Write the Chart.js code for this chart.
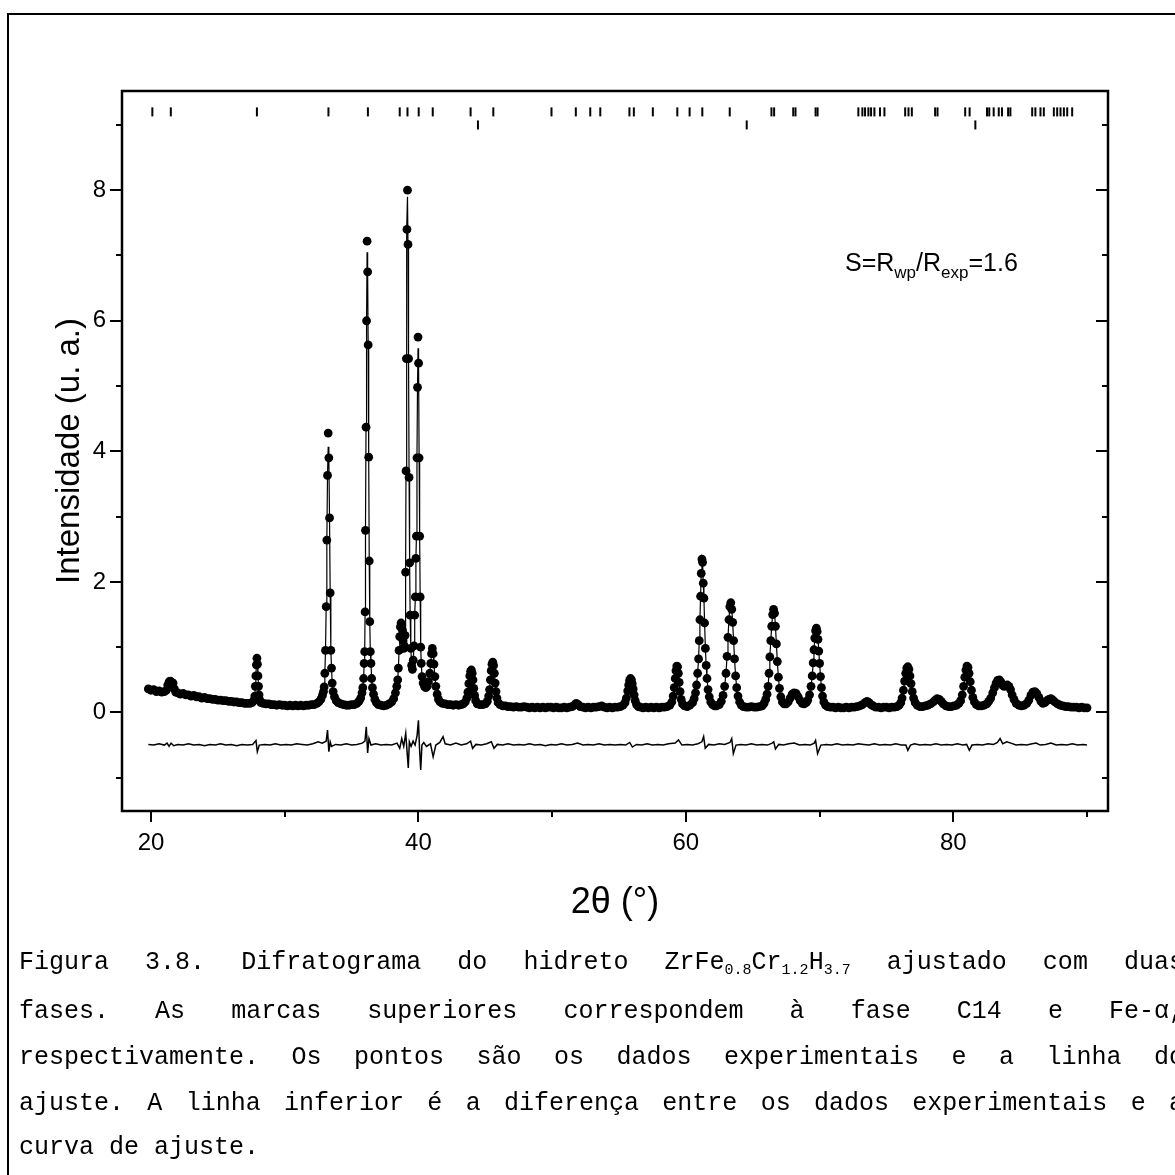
<!DOCTYPE html>
<html>
<head>
<meta charset="utf-8">
<title>Difratograma ZrFe0.8Cr1.2H3.7</title>
<script src="https://cdn.jsdelivr.net/npm/chart.js@4.4.1/dist/chart.umd.min.js"></script>
<style>
  html, body { margin: 0; padding: 0; background: #fff; width: 1175px; height: 1175px; overflow: hidden; }
  #wrap { position: relative; width: 1175px; height: 1175px; overflow: hidden; }
  #frame { position: absolute; left: 7px; top: 13px; width: 1400px; height: 1400px; border-left: 2px solid #000; border-top: 2px solid #000; }
  #chart { position: absolute; left: 0; top: 0; }
  .cap { position: absolute; left: 19px; width: 1165px; height: 46px; line-height: 46px; color: #000;
         font-family: "Liberation Mono", "Courier New", monospace; font-size: 25px;
         text-align: justify; text-align-last: justify; }
  .cap.last { text-align: left; text-align-last: left; }
  .cap sub { font-size: 15px; vertical-align: -5px; line-height: 0; }
</style>
</head>
<body>
<div id="wrap">
  <div id="frame"></div>
  <canvas id="chart" width="1175" height="1175"></canvas>
  <div class="cap" style="top:940px">Figura 3.8. Difratograma do hidreto ZrFe<sub>0.8</sub>Cr<sub>1.2</sub>H<sub>3.7</sub> ajustado com duas</div>
  <div class="cap" style="top:989px">fases. As marcas superiores correspondem à fase C14 e Fe-α,</div>
  <div class="cap" style="top:1035px">respectivamente. Os pontos são os dados experimentais e a linha do</div>
  <div class="cap" style="top:1081px">ajuste. A linha inferior é a diferença entre os dados experimentais e a</div>
  <div class="cap last" style="top:1125px">curva de ajuste.</div>
</div>
<script>
const observed = [
  [19.8,0.36],[20.0,0.34],[20.2,0.35],[20.4,0.32],[20.6,0.33],[20.8,0.31],[21.0,0.32],[21.15,0.34],[21.25,0.42],[21.35,0.47],
  [21.45,0.48],[21.55,0.46],[21.65,0.45],[21.75,0.36],[21.85,0.31],[22.0,0.3],[22.2,0.28],[22.4,0.29],[22.6,0.27],[22.8,0.27],
  [23.0,0.25],[23.2,0.26],[23.4,0.24],[23.6,0.24],[23.8,0.22],[24.0,0.23],[24.2,0.21],[24.4,0.21],[24.6,0.2],[24.8,0.2],
  [25.0,0.19],[25.2,0.19],[25.4,0.18],[25.6,0.18],[25.8,0.17],[26.0,0.17],[26.2,0.16],[26.4,0.16],[26.6,0.15],[26.8,0.15],
  [27.0,0.14],[27.2,0.14],[27.4,0.14],[27.55,0.15],[27.68,0.18],
  [27.76,0.25],[27.8,0.4],[27.84,0.56],[27.88,0.73],[27.92,0.83],[27.96,0.74],[28.0,0.56],[28.04,0.4],[28.08,0.27],[28.14,0.19],[28.22,0.15],
  [28.4,0.14],[28.6,0.13],[28.8,0.13],[29.0,0.12],[29.2,0.12],[29.4,0.11],[29.6,0.12],[29.8,0.11],[30.0,0.11],[30.2,0.1],
  [30.4,0.11],[30.6,0.1],[30.8,0.11],[31.0,0.1],[31.2,0.11],[31.4,0.1],[31.6,0.11],[31.8,0.11],[32.0,0.12],[32.2,0.12],
  [32.4,0.14],[32.55,0.16],[32.7,0.2],[32.82,0.26],[32.9,0.32],
  [32.95,0.39],[33.0,0.6],[33.05,0.95],[33.1,1.62],[33.15,2.64],[33.2,3.63],[33.25,4.28],[33.3,3.9],[33.35,2.98],[33.4,1.83],
  [33.45,0.95],[33.5,0.68],[33.55,0.45],[33.62,0.32],[33.72,0.24],[33.85,0.18],[34.0,0.15],
  [34.2,0.13],[34.4,0.12],[34.6,0.11],[34.8,0.11],[35.0,0.12],[35.2,0.12],[35.4,0.14],[35.55,0.17],[35.68,0.22],[35.78,0.3],[35.84,0.38],
  [35.9,0.52],[35.94,0.75],[35.98,0.93],[36.01,1.54],[36.04,2.79],[36.08,4.37],[36.12,6.0],[36.16,7.22],[36.2,6.75],[36.24,5.63],
  [36.28,3.91],[36.32,2.32],[36.36,1.39],[36.4,0.93],[36.45,0.75],[36.5,0.52],[36.56,0.38],[36.64,0.28],[36.74,0.2],[36.86,0.15],[37.0,0.12],
  [37.2,0.11],[37.4,0.1],[37.6,0.11],[37.8,0.13],[38.0,0.16],[38.15,0.21],[38.28,0.3],[38.38,0.4],
  [38.45,0.5],[38.5,0.68],[38.55,0.95],[38.6,1.16],[38.65,1.31],[38.7,1.37],[38.75,1.33],[38.8,1.26],[38.85,1.1],[38.9,0.98],
  [38.95,1.02],[39.0,1.18],[39.04,2.15],[39.07,3.7],[39.1,5.42],[39.14,7.4],[39.18,8.0],[39.22,7.17],[39.26,5.42],[39.3,3.6],
  [39.34,2.29],[39.38,1.49],[39.43,0.98],[39.49,0.72],[39.55,0.66],[39.61,0.8],[39.67,1.02],[39.72,1.49],[39.77,1.77],[39.81,2.36],
  [39.85,2.7],[39.89,3.9],[39.93,4.98],[39.97,5.75],[40.01,5.35],[40.05,3.9],[40.09,2.7],[40.13,1.77],[40.17,1.0],[40.21,0.75],
  [40.27,0.55],[40.35,0.45],[40.45,0.4],[40.55,0.38],[40.65,0.4],[40.75,0.47],[40.85,0.6],[40.92,0.75],[40.98,0.9],[41.04,0.98],
  [41.1,0.9],[41.16,0.74],[41.23,0.55],[41.3,0.4],[41.4,0.28],[41.5,0.2],[41.62,0.16],
  [41.8,0.14],[42.0,0.13],[42.2,0.12],[42.4,0.12],[42.6,0.11],[42.8,0.12],[43.0,0.11],[43.2,0.12],[43.35,0.13],[43.5,0.16],[43.62,0.22],
  [43.7,0.31],[43.77,0.44],[43.84,0.56],[43.9,0.63],[43.96,0.65],[44.02,0.6],[44.08,0.5],[44.14,0.37],[44.2,0.26],[44.28,0.18],
  [44.4,0.13],[44.6,0.12],[44.8,0.12],[45.0,0.13],[45.15,0.17],[45.25,0.25],
  [45.32,0.35],[45.38,0.5],[45.44,0.64],[45.5,0.74],[45.56,0.77],[45.62,0.72],[45.68,0.6],[45.74,0.45],[45.8,0.32],[45.87,0.22],[45.96,0.15],[46.1,0.12],
  [46.3,0.1],[46.5,0.1],[46.7,0.09],[46.9,0.09],[47.1,0.08],[47.3,0.09],[47.5,0.08],[47.7,0.08],[47.9,0.09],[48.1,0.08],
  [48.3,0.07],[48.5,0.08],[48.7,0.07],[48.9,0.08],[49.1,0.07],[49.3,0.08],[49.5,0.07],[49.7,0.08],[49.9,0.08],[50.1,0.07],
  [50.3,0.08],[50.5,0.07],[50.7,0.07],[50.9,0.08],[51.1,0.07],[51.3,0.08],[51.5,0.09],[51.65,0.11],[51.8,0.14],[51.95,0.12],
  [52.1,0.09],[52.3,0.08],[52.5,0.07],[52.7,0.08],[52.9,0.07],[53.1,0.08],[53.3,0.08],[53.5,0.09],[53.7,0.1],[53.9,0.08],
  [54.1,0.07],[54.3,0.08],[54.5,0.07],[54.7,0.08],[54.9,0.08],[55.1,0.09],
  [55.3,0.11],[55.45,0.15],[55.55,0.22],[55.65,0.33],[55.72,0.42],[55.79,0.49],[55.86,0.52],[55.93,0.5],[55.99,0.44],[56.06,0.36],
  [56.13,0.27],[56.21,0.18],[56.31,0.12],[56.45,0.09],
  [56.6,0.08],[56.8,0.07],[57.0,0.08],[57.2,0.07],[57.4,0.08],[57.6,0.07],[57.8,0.08],[58.0,0.07],[58.2,0.08],[58.4,0.08],[58.6,0.09],
  [58.8,0.11],[58.95,0.16],[59.05,0.25],[59.13,0.38],[59.2,0.52],[59.26,0.64],[59.32,0.71],[59.38,0.7],[59.44,0.6],[59.5,0.46],
  [59.57,0.32],[59.65,0.2],[59.75,0.13],[59.9,0.1],
  [60.1,0.09],[60.3,0.11],[60.5,0.15],[60.62,0.21],[60.72,0.3],[60.8,0.42],[60.88,0.6],[60.95,0.82],[61.0,1.1],[61.05,1.42],
  [61.1,1.78],[61.15,2.13],[61.2,2.35],[61.25,2.3],[61.3,1.98],[61.35,1.75],[61.4,1.37],[61.46,0.98],[61.52,0.72],[61.58,0.52],
  [61.66,0.35],[61.75,0.24],[61.86,0.16],[62.0,0.12],[62.15,0.1],
  [62.3,0.1],[62.5,0.12],[62.65,0.17],[62.78,0.26],[62.9,0.4],[63.0,0.6],[63.08,0.86],[63.15,1.15],[63.22,1.42],[63.29,1.62],
  [63.36,1.68],[63.43,1.58],[63.5,1.38],[63.57,1.1],[63.64,0.82],[63.72,0.56],[63.8,0.38],[63.9,0.25],[64.02,0.16],[64.15,0.11],
  [64.3,0.09],[64.5,0.08],[64.7,0.08],[64.9,0.09],[65.1,0.08],[65.3,0.08],[65.5,0.09],[65.7,0.1],[65.85,0.14],[65.97,0.2],
  [66.07,0.28],[66.15,0.4],[66.22,0.6],[66.28,0.85],[66.35,1.1],[66.42,1.32],[66.49,1.5],[66.56,1.58],[66.63,1.52],[66.7,1.32],
  [66.77,1.05],[66.84,0.78],[66.92,0.54],[67.0,0.37],[67.1,0.24],[67.22,0.16],
  [67.35,0.13],[67.5,0.13],[67.65,0.16],[67.8,0.22],[67.95,0.28],[68.1,0.3],[68.25,0.29],[68.4,0.24],[68.55,0.18],[68.7,0.14],
  [68.85,0.13],[69.0,0.15],[69.12,0.19],[69.25,0.27],
  [69.36,0.4],[69.45,0.56],[69.52,0.76],[69.58,0.96],[69.64,1.14],[69.7,1.25],[69.76,1.29],[69.82,1.24],[69.88,1.12],[69.94,0.94],
  [70.0,0.75],[70.07,0.55],[70.14,0.38],[70.22,0.25],[70.32,0.16],[70.45,0.11],[70.6,0.09],
  [70.8,0.08],[71.0,0.08],[71.2,0.07],[71.4,0.08],[71.6,0.07],[71.8,0.07],[72.0,0.08],[72.2,0.07],[72.4,0.08],[72.6,0.08],
  [72.8,0.09],[73.0,0.1],[73.2,0.12],[73.4,0.15],[73.55,0.17],[73.7,0.15],[73.85,0.12],[74.0,0.1],[74.2,0.08],[74.4,0.08],
  [74.6,0.07],[74.8,0.08],[75.0,0.08],[75.2,0.07],[75.4,0.08],[75.6,0.08],[75.8,0.09],
  [75.95,0.11],[76.07,0.15],[76.17,0.22],[76.27,0.34],[76.36,0.48],[76.44,0.6],[76.52,0.68],[76.6,0.7],[76.68,0.66],[76.76,0.56],
  [76.84,0.44],[76.93,0.32],[77.03,0.22],[77.15,0.15],[77.3,0.11],[77.5,0.09],[77.7,0.09],[77.9,0.1],[78.1,0.11],[78.3,0.13],
  [78.5,0.16],[78.65,0.19],[78.8,0.21],[78.95,0.2],[79.1,0.17],[79.25,0.13],[79.45,0.1],[79.65,0.09],[79.85,0.09],[80.05,0.1],
  [80.25,0.11],[80.42,0.14],
  [80.55,0.18],[80.67,0.27],[80.77,0.4],[80.86,0.54],[80.94,0.65],[81.02,0.71],[81.1,0.69],[81.18,0.6],[81.27,0.47],[81.36,0.34],
  [81.46,0.23],[81.58,0.16],[81.72,0.12],[81.9,0.1],[82.1,0.1],[82.3,0.11],[82.5,0.13],[82.65,0.17],
  [82.8,0.22],[82.95,0.3],[83.08,0.38],[83.2,0.45],[83.32,0.49],[83.44,0.5],[83.56,0.47],[83.68,0.42],[83.8,0.4],[83.92,0.41],
  [84.04,0.42],[84.16,0.4],[84.28,0.35],[84.4,0.27],[84.54,0.2],[84.7,0.14],[84.9,0.11],[85.1,0.1],[85.3,0.11],[85.5,0.14],
  [85.65,0.19],[85.8,0.26],[85.95,0.31],[86.1,0.32],[86.25,0.29],[86.4,0.23],[86.55,0.17],[86.7,0.14],[86.85,0.15],[87.0,0.18],
  [87.15,0.2],[87.3,0.21],[87.45,0.19],[87.6,0.16],[87.8,0.13],[88.0,0.11],[88.2,0.1],[88.4,0.09],[88.6,0.09],[88.8,0.08],
  [89.0,0.08],[89.2,0.08],[89.4,0.07],[89.6,0.08],[89.8,0.07],[90.0,0.07]
];

// Where the fitted curve tops out below the measured point
const fitTops = [[33.25, 4.07], [36.16, 7.05], [39.18, 7.9], [39.97, 5.58]];

// Difference curve (obs - calc), drawn shifted below zero as in the figure
const difference = [
  [19.8,-0.49],[20.2,-0.5],[20.6,-0.48],[21.0,-0.5],[21.2,-0.47],[21.35,-0.52],[21.5,-0.47],[21.7,-0.51],[22.0,-0.49],[22.4,-0.5],
  [22.8,-0.48],[23.2,-0.5],[23.6,-0.49],[24.0,-0.51],[24.4,-0.49],[24.8,-0.5],[25.2,-0.48],[25.6,-0.5],[26.0,-0.49],[26.4,-0.51],
  [26.8,-0.49],[27.2,-0.5],[27.6,-0.49],[27.85,-0.43],[27.95,-0.6],[28.1,-0.5],[28.5,-0.49],[28.9,-0.5],[29.3,-0.48],[29.7,-0.5],
  [30.1,-0.49],[30.5,-0.5],[30.9,-0.48],[31.3,-0.49],[31.7,-0.5],[32.1,-0.48],[32.5,-0.45],[32.8,-0.47],[33.1,-0.44],[33.2,-0.27],
  [33.3,-0.6],[33.4,-0.45],[33.5,-0.52],[33.8,-0.49],[34.2,-0.5],[34.6,-0.48],[35.0,-0.5],[35.4,-0.49],[35.8,-0.47],[36.0,-0.44],
  [36.1,-0.22],[36.2,-0.62],[36.3,-0.4],[36.45,-0.5],[36.8,-0.48],[37.2,-0.5],[37.6,-0.49],[38.0,-0.5],[38.4,-0.47],[38.6,-0.55],
  [38.75,-0.4],[38.9,-0.52],[39.05,-0.32],[39.15,-0.6],[39.24,-0.85],[39.32,-0.45],[39.45,-0.52],[39.6,-0.44],[39.75,-0.5],[39.9,-0.35],
  [40.0,-0.12],[40.08,-0.55],[40.17,-0.88],[40.26,-0.5],[40.4,-0.46],[40.6,-0.52],[40.9,-0.48],[41.1,-0.68],[41.3,-0.5],[41.6,-0.46],
  [41.84,-0.37],[42.0,-0.48],[42.4,-0.5],[42.8,-0.47],[43.2,-0.5],[43.6,-0.48],[43.9,-0.44],[44.05,-0.55],[44.3,-0.49],[44.7,-0.5],
  [45.1,-0.48],[45.45,-0.45],[45.65,-0.55],[45.9,-0.49],[46.3,-0.5],[46.7,-0.48],[47.1,-0.5],[47.5,-0.49],[47.9,-0.5],[48.3,-0.48],
  [48.7,-0.5],[49.1,-0.49],[49.5,-0.51],[49.9,-0.49],[50.3,-0.5],[50.7,-0.48],[51.1,-0.5],[51.5,-0.49],[51.9,-0.47],[52.3,-0.5],
  [52.7,-0.49],[53.1,-0.5],[53.5,-0.48],[53.9,-0.5],[54.3,-0.49],[54.7,-0.5],[55.1,-0.49],[55.5,-0.5],[55.8,-0.46],[56.0,-0.53],
  [56.3,-0.49],[56.7,-0.5],[57.1,-0.48],[57.5,-0.5],[57.9,-0.49],[58.3,-0.5],[58.7,-0.48],[59.2,-0.47],[59.45,-0.42],[59.7,-0.5],
  [60.1,-0.49],[60.5,-0.5],[60.9,-0.48],[61.2,-0.45],[61.33,-0.37],[61.45,-0.55],[61.7,-0.49],[62.1,-0.5],[62.5,-0.48],[62.9,-0.49],
  [63.3,-0.46],[63.43,-0.4],[63.55,-0.63],[63.75,-0.5],[64.1,-0.49],[64.5,-0.5],[64.9,-0.48],[65.3,-0.5],[65.7,-0.49],[66.1,-0.5],
  [66.45,-0.47],[66.57,-0.45],[66.7,-0.56],[66.95,-0.49],[67.3,-0.5],[67.7,-0.48],[68.1,-0.47],[68.5,-0.5],[68.9,-0.49],[69.3,-0.5],
  [69.6,-0.47],[69.7,-0.43],[69.85,-0.63],[70.1,-0.5],[70.5,-0.49],[70.9,-0.5],[71.3,-0.48],[71.7,-0.5],[72.1,-0.49],[72.5,-0.5],
  [72.9,-0.48],[73.3,-0.49],[73.7,-0.5],[74.1,-0.48],[74.5,-0.5],[74.9,-0.49],[75.3,-0.5],[75.7,-0.48],[76.1,-0.5],[76.45,-0.5],
  [76.6,-0.58],[76.8,-0.5],[77.1,-0.48],[77.5,-0.5],[77.9,-0.49],[78.3,-0.5],[78.7,-0.48],[79.1,-0.5],[79.5,-0.49],[79.9,-0.5],
  [80.3,-0.48],[80.7,-0.5],[81.0,-0.49],[81.2,-0.58],[81.4,-0.5],[81.8,-0.49],[82.2,-0.5],[82.6,-0.48],[83.0,-0.49],[83.3,-0.46],
  [83.5,-0.4],[83.7,-0.48],[84.0,-0.45],[84.3,-0.47],[84.7,-0.5],[85.1,-0.49],[85.5,-0.5],[85.9,-0.48],[86.2,-0.47],[86.5,-0.5],
  [86.9,-0.49],[87.3,-0.47],[87.7,-0.5],[88.1,-0.49],[88.5,-0.5],[88.9,-0.48],[89.3,-0.5],[89.7,-0.49],[90.0,-0.5]
];

// Reflection positions (2theta): C14 Laves phase and Fe-alpha
const c14Marks = [20.1, 21.48, 27.92, 33.27, 36.22, 38.6, 39.18, 40.02, 41.07, 43.9, 45.6, 49.95, 51.77, 52.85, 53.6,
  55.78, 56.11, 57.53, 59.36, 60.28, 61.23, 63.28, 66.4, 66.6, 68.03, 68.2, 69.7, 69.85, 72.9, 73.2, 73.4, 73.65,
  73.85, 74.1, 74.52, 74.85, 76.4, 76.65, 76.9, 78.64, 78.82, 80.89, 81.22, 82.52, 82.69, 83.02, 83.4, 83.64, 84.1,
  84.27, 85.9, 86.14, 86.52, 86.77, 87.52, 87.77, 88.02, 88.27, 88.52, 88.89];
const feMarks = [44.45, 64.55, 81.65];

// Tick marks on the frame
const xTickValues = [20, 30, 40, 50, 60, 70, 80, 90];
const yTickValues = [-1, 0, 1, 2, 3, 4, 5, 6, 7, 8, 9];

const NARROW = '"Liberation Sans Narrow", "Liberation Sans", Arial, sans-serif';

const fitted = observed.map(([t, v]) => {
  const top = fitTops.find(f => f[0] === t);
  return { x: t, y: top ? top[1] : v };
});

// Plot frame plus inner/outer tick marks (drawn from the chart's own scales)
const frameTicks = {
  id: 'frameTicks',
  afterDatasetsDraw(chart) {
    const { ctx, chartArea: a, scales: { x, y } } = chart;
    ctx.save();
    ctx.strokeStyle = '#000';
    ctx.lineCap = 'butt';
    const seg = (x1, y1, x2, y2) => { ctx.beginPath(); ctx.moveTo(x1, y1); ctx.lineTo(x2, y2); ctx.stroke(); };
    ctx.lineWidth = 2;
    yTickValues.forEach(v => {
      const py = Math.round(y.getPixelForValue(v));
      const len = v % 2 === 0 ? 12 : 6;
      seg(a.left - len, py, a.left, py);
      seg(a.right - len, py, a.right, py);
    });
    xTickValues.forEach(v => {
      const px = Math.round(x.getPixelForValue(v));
      const len = v % 20 === 0 ? 11 : 6;
      seg(px, a.bottom, px, a.bottom + len);
    });
    ctx.lineWidth = 2.5;
    ctx.strokeRect(a.left, a.top, a.right - a.left, a.bottom - a.top);
    ctx.restore();
  }
};

// "S=Rwp/Rexp=1.6" with subscripts
const rFactorLabel = {
  id: 'rFactorLabel',
  afterDraw(chart) {
    const { ctx, scales: { x, y } } = chart;
    let px = x.getPixelForValue(71.9);
    const py = y.getPixelForValue(6.77);
    const parts = [['S=R', false], ['wp', true], ['/R', false], ['exp', true], ['=1.6', false]];
    ctx.save();
    ctx.fillStyle = '#000';
    ctx.textBaseline = 'alphabetic';
    ctx.textAlign = 'left';
    parts.forEach(([txt, sub]) => {
      ctx.font = (sub ? '17px ' : '25px ') + NARROW;
      ctx.fillText(txt, px, sub ? py + 7 : py);
      px += ctx.measureText(txt).width;
    });
    ctx.restore();
  }
};

new Chart(document.getElementById('chart'), {
  type: 'scatter',
  data: {
    datasets: [
      {
        label: 'C14',
        data: c14Marks.map(t => ({ x: t, y: 9.2 })),
        pointStyle: 'line', rotation: 90, pointRadius: 4.5,
        pointBorderColor: '#000', pointBorderWidth: 2, showLine: false
      },
      {
        label: 'Fe-α',
        data: feMarks.map(t => ({ x: t, y: 9.0 })),
        pointStyle: 'line', rotation: 90, pointRadius: 4.5,
        pointBorderColor: '#000', pointBorderWidth: 2, showLine: false
      },
      {
        label: 'ajuste',
        data: fitted,
        showLine: true, borderColor: '#000', borderWidth: 1.2, pointRadius: 0, tension: 0
      },
      {
        label: 'observado',
        data: observed.map(([t, v]) => ({ x: t, y: v })),
        showLine: false, pointRadius: 4.4,
        pointBackgroundColor: '#000', pointBorderColor: '#000', pointBorderWidth: 0
      },
      {
        label: 'diferença',
        data: difference.map(([t, v]) => ({ x: t, y: v })),
        showLine: true, borderColor: '#000', borderWidth: 1.5, pointRadius: 0, tension: 0
      }
    ]
  },
  options: {
    responsive: false,
    animation: false,
    devicePixelRatio: 1,
    events: [],
    layout: { padding: { left: 0, top: 91, right: 67, bottom: 244 } },
    plugins: { legend: { display: false }, tooltip: { enabled: false } },
    scales: {
      x: {
        type: 'linear', min: 17.83, max: 91.57,
        grid: { display: false, drawTicks: false },
        border: { display: false },
        ticks: { stepSize: 20, includeBounds: false, maxRotation: 0, padding: 18, color: '#000',
                 font: { family: NARROW, size: 24 } },
        title: { display: true, text: '2θ (°)', color: '#000',
                 font: { family: NARROW, size: 36 }, padding: { top: 0, bottom: 6 } },
        afterFit(scale) { scale.height = 120; }
      },
      y: {
        type: 'linear', min: -1.51, max: 9.52,
        grid: { display: false, drawTicks: false },
        border: { display: false },
        ticks: { stepSize: 2, includeBounds: false, padding: 16, color: '#000',
                 font: { family: NARROW, size: 24 } },
        title: { display: true, text: 'Intensidade (u. a.)', color: '#000',
                 font: { family: '"Liberation Sans", Arial, sans-serif', size: 33 }, padding: { top: 50, bottom: 0 } },
        afterFit(scale) { scale.width = 122; }
      }
    }
  },
  plugins: [frameTicks, rFactorLabel]
});
</script>
</body>
</html>
